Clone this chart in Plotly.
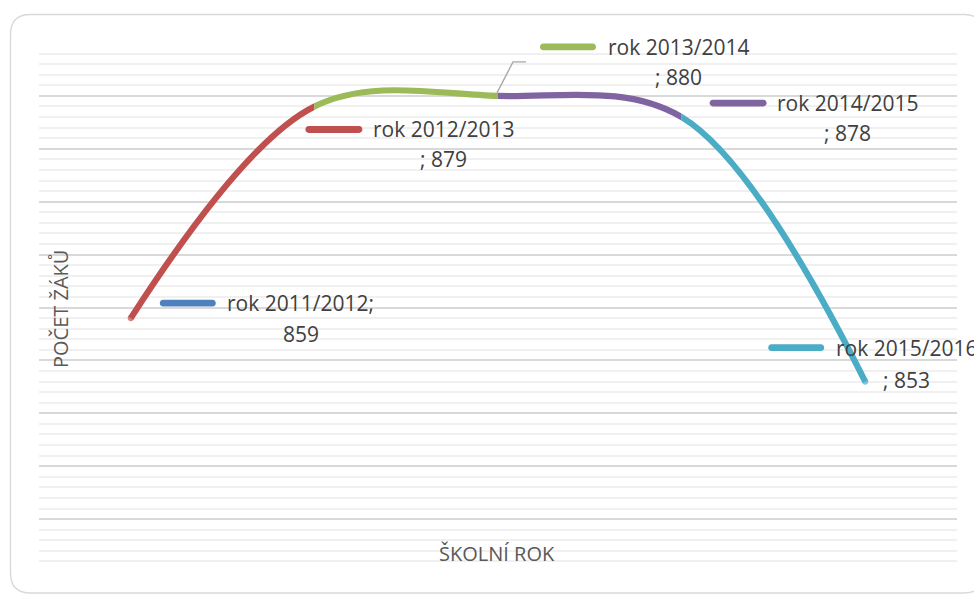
import plotly.graph_objects as go

# ---------------- data ----------------
years = ["rok 2011/2012", "rok 2012/2013", "rok 2013/2014", "rok 2014/2015", "rok 2015/2016"]
values = [859, 879, 880, 878, 853]
point_colors = ["#4F81BD", "#C0504D", "#9BBB59", "#8064A2", "#4BACC6"]
x_title = "ŠKOLNÍ ROK"
y_title = "POČET ŽÁKŮ"
y_min, y_max = 835, 885
y_major, y_minor = 5, 1

# data-label texts (series name ; value) built from the data
label_line1 = [years[0] + ";"] + years[1:]
label_line2 = [str(values[0])] + ["; " + str(v) for v in values[1:]]

# ---------------- layout geometry ----------------
W, H = 974, 594
# plot area in page pixels: x 39..957, y 43..572
ML, MT = 39, 43
MR = W - 957
MB = H - 572
PW, PH = W - ML - MR, H - MT - MB


def fx(px):  # page px -> paper x
    return (px - ML) / PW


def fy(py):  # page px -> paper y
    return (H - MB - py) / PH


# label placement offsets (pixels relative to each point, y up)
label_pos = [
    dict(dx=170, dy1=15, dy2=-16, k0=29, k1=85, kdy=15),
    dict(dx=129, dy1=-23, dy2=-53, k0=-9, k1=48, kdy=-23),
    dict(dx=180, dy1=49, dy2=19, k0=42, k1=98, kdy=49),
    dict(dx=166, dy1=14, dy2=-16, k0=28, k1=85, kdy=14),
    dict(dx=41, dy1=34, dy2=2, k0=-97, k1=-41, kdy=34),
]

label_font = dict(family="Open Sans", size=21, color="#404040")
title_font = dict(family="Open Sans", size=20, color="#595959")

fig = go.Figure()
n = len(values)

# invisible trace to hold the main subplot
fig.add_trace(go.Scatter(x=years, y=values, mode="markers", marker=dict(opacity=0),
                         hoverinfo="skip", showlegend=False))

layout = dict(
    width=W, height=H,
    margin=dict(l=ML, r=MR, t=MT, b=MB),
    paper_bgcolor="white",
    plot_bgcolor="rgba(0,0,0,0)",
    showlegend=False,
    xaxis=dict(type="category", categoryorder="array", categoryarray=years,
               range=[-0.5, n - 0.5], showgrid=False, showticklabels=False,
               showline=False, zeroline=False, ticks="", domain=[0, 1]),
    yaxis=dict(range=[y_min, y_max], tick0=y_min, dtick=y_major, showgrid=True,
               gridcolor="#d9d9d9", gridwidth=1.5,
               minor=dict(dtick=y_minor, tick0=y_min, showgrid=True,
                          gridcolor="#f0f0f0", gridwidth=1.5),
               showticklabels=False, ticks="", showline=False, zeroline=False,
               domain=[0, 1]),
)

LW = 6.2
# each coloured segment: same smoothed line through all points, clipped to its span
for k in range(1, n):
    d0 = 0.0 if k == 1 else (k - 0.5) / n
    d1 = 1.0 if k == n - 1 else (k + 0.5) / n
    xa, ya = f"xaxis{k + 1}", f"yaxis{k + 1}"
    layout[xa] = dict(type="category", categoryorder="array", categoryarray=years,
                      domain=[d0, d1], range=[-0.5 + n * d0, -0.5 + n * d1],
                      visible=False, anchor=f"y{k + 1}")
    layout[ya] = dict(range=[y_min, y_max], domain=[0, 1], visible=False,
                      anchor=f"x{k + 1}")
    # round caps at the two ends of the whole line
    sizes = [0] * n
    if k == 1:
        sizes[0] = LW
    if k == n - 1:
        sizes[n - 1] = LW
    fig.add_trace(go.Scatter(x=years, y=values, mode="lines+markers",
                             line=dict(color=point_colors[k], width=LW,
                                       shape="spline", smoothing=1),
                             marker=dict(size=sizes, color=point_colors[k],
                                         line=dict(width=0)),
                             xaxis=f"x{k + 1}", yaxis=f"y{k + 1}",
                             hoverinfo="skip", showlegend=False))

fig.update_layout(**layout)

# ---------------- outer rounded border ----------------
L, T, R, B, r = 10.5, 14.5, 984, 593, 20
pts = lambda px, py: f"{fx(px):.5f},{fy(py):.5f}"
border = (f"M {pts(L + r, T)} L {pts(R - r, T)} Q {pts(R, T)} {pts(R, T + r)} "
          f"L {pts(R, B - r)} Q {pts(R, B)} {pts(R - r, B)} "
          f"L {pts(L + r, B)} Q {pts(L, B)} {pts(L, B - r)} "
          f"L {pts(L, T + r)} Q {pts(L, T)} {pts(L + r, T)} Z")
fig.add_shape(type="path", path=border, xref="paper", yref="paper",
              line=dict(color="#d9d9d9", width=1.4), layer="below")

# ---------------- data labels with legend keys ----------------
hk = 3.4  # half thickness of legend key
c = hk * 4 / 3
for i in range(n):
    p = label_pos[i]
    a, b, y = p["k0"] + hk, p["k1"] - hk, p["kdy"]
    pill = (f"M {a},{y + hk} L {b},{y + hk} C {b + c},{y + hk} {b + c},{y - hk} {b},{y - hk} "
            f"L {a},{y - hk} C {a - c},{y - hk} {a - c},{y + hk} {a},{y + hk} Z")
    fig.add_shape(type="path", xref="x", yref="y", xsizemode="pixel", ysizemode="pixel",
                  xanchor=i, yanchor=values[i], path=pill,
                  fillcolor=point_colors[i], line=dict(width=0))
    fig.add_annotation(x=years[i], y=values[i], xref="x", yref="y",
                       xshift=p["dx"], yshift=p["dy1"], text=label_line1[i],
                       showarrow=False, xanchor="center", yanchor="middle",
                       font=label_font)
    fig.add_annotation(x=years[i], y=values[i], xref="x", yref="y",
                       xshift=p["dx"], yshift=p["dy2"], text=label_line2[i],
                       showarrow=False, xanchor="center", yanchor="middle",
                       font=label_font)

# leader line for the third label
fig.add_shape(type="path", xref="x", yref="y", xsizemode="pixel", ysizemode="pixel",
              xanchor=2, yanchor=values[2], path="M -1,3 L 15,34 L 28,34",
              line=dict(color="#a6a6a6", width=1.3))

# ---------------- axis titles ----------------
fig.add_annotation(x=fx(497), y=fy(553), xref="paper", yref="paper", text=x_title,
                   showarrow=False, xanchor="center", yanchor="middle", font=title_font)
fig.add_annotation(x=fx(60), y=fy(309), xref="paper", yref="paper", text=y_title,
                   textangle=-90, showarrow=False, xanchor="center", yanchor="middle",
                   font=title_font)

fig.write_html("out.html", config={"displayModeBar": False},
               post_script="document.body.style.margin='0';document.body.style.overflow='hidden';")
